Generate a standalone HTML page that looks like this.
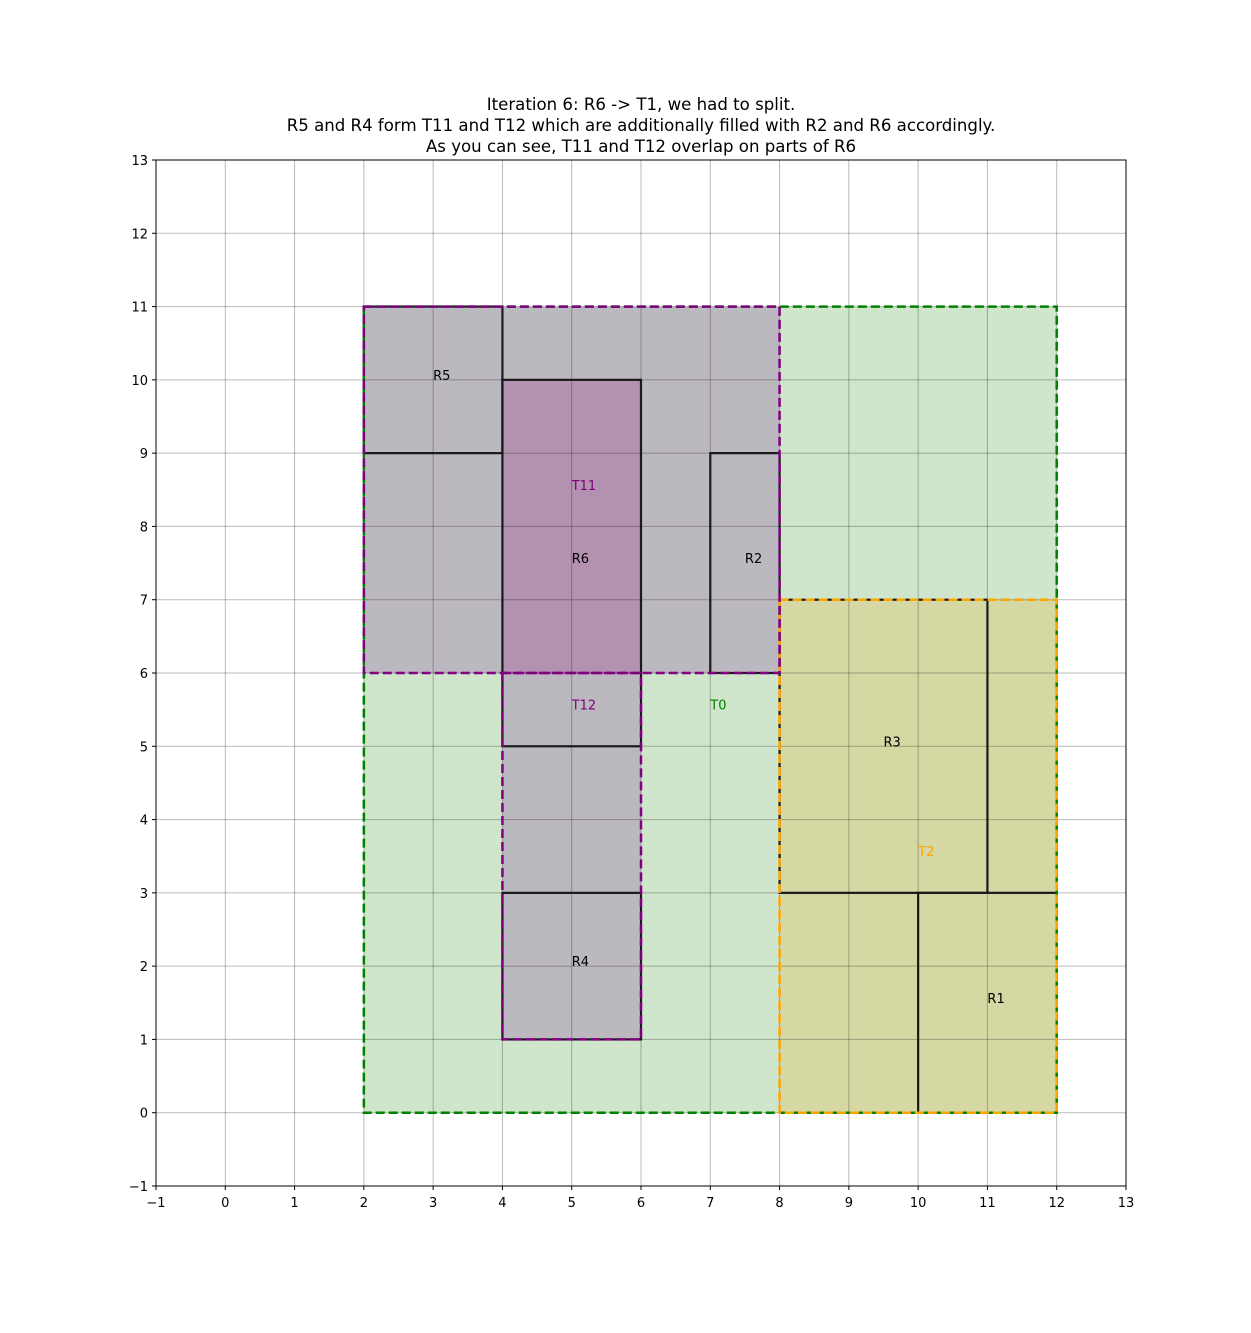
<!DOCTYPE html>
<html><head><meta charset="utf-8"><style>
html,body{margin:0;padding:0;background:#fff;}
svg{display:block;font-family:"DejaVu Sans","Liberation Sans",sans-serif;}
</style></head><body>
<svg id="chart" width="1251" height="1333" viewBox="0 0 1251 1333" xmlns="http://www.w3.org/2000/svg">
<g font-size="16.6" text-anchor="middle" fill="#000">
<text x="641" y="110">Iteration 6: R6 -&gt; T1, we had to split.</text>
<text x="641" y="131">R5 and R4 form T11 and T12 which are additionally filled with R2 and R6 accordingly.</text>
<text x="641" y="152">As you can see, T11 and T12 overlap on parts of R6</text>
</g>
<g id="fills"></g>
<g id="grid"></g>
<g id="borders"></g>
<g id="labels" font-size="13"></g>
<rect x="156" y="160" width="970" height="1026" fill="none" stroke="#000" stroke-width="1"/>
<g id="ticks" font-size="13"></g>
</svg>
<script>
const xTicks=[-1,0,1,2,3,4,5,6,7,8,9,10,11,12,13];
const yTicks=[-1,0,1,2,3,4,5,6,7,8,9,10,11,12,13];
// fill regions: [x0,y0,x1,y1]
const fillNames=['T0','T2','T11','T12','R6'];
const fillBoxes=[[2,0,12,11],[8,0,12,7],[2,6,8,11],[4,1,6,6],[4,6,6,10]];
const fillColors=['#cfe5cc','#d5d8a3','#bcb8bf','#bcb8bf','#b391b0'];
// solid black rects
const rectNames=['R5','R6','R2','R4','R3','R1'];
const rectBoxes=[[2,9,4,11],[4,5,6,10],[7,6,8,9],[4,1,6,3],[8,3,11,7],[10,0,12,3]];
const rectLabelPos=[[3,10],[5,7.5],[7.5,7.5],[5,2],[9.5,5],[11,1.5]];
// dashed containers
const contNames=['T0','T2','T11','T12'];
const contBoxes=[[2,0,12,11],[8,0,12,7],[2,6,8,11],[4,1,6,6]];
const contColors=['green','orange','purple','purple'];
const contLabelPos=[[7,5.5],[10,3.5],[5,8.5],[5,5.5]];

const X=v=>156+(v+1)*970/14, Y=v=>1186-(v+1)*1026/14;
const NS='http://www.w3.org/2000/svg';
function mk(tag,parent,attrs){const e=document.createElementNS(NS,tag);for(const k in attrs)e.setAttribute(k,attrs[k]);parent.appendChild(e);return e;}
const grid=document.getElementById('grid'),ticks=document.getElementById('ticks');
xTicks.forEach(t=>{
 const l=mk('line',grid,{x1:X(t),x2:X(t),y1:160,y2:1186,stroke:'#000','stroke-opacity':0.27,'stroke-width':1});
 
 
 mk('line',ticks,{x1:X(t),x2:X(t),y1:1186,y2:1190,stroke:'#000'});
 const tx=mk('text',ticks,{x:X(t),y:1207,'text-anchor':'middle'});tx.textContent=t<0?'\u2212'+(-t):t;
 
 
});
yTicks.forEach(t=>{
 const l=mk('line',grid,{x1:156,x2:1126,y1:Y(t),y2:Y(t),stroke:'#000','stroke-opacity':0.27,'stroke-width':1});
 
 
 mk('line',ticks,{x1:152,x2:156,y1:Y(t),y2:Y(t),stroke:'#000'});
 const tx=mk('text',ticks,{x:148,y:Y(t)+5,'text-anchor':'end'});tx.textContent=t<0?'\u2212'+(-t):t;
 
 
});
const fills=document.getElementById('fills'),borders=document.getElementById('borders'),labels=document.getElementById('labels');
fillBoxes.forEach((b,i)=>{
 const r=mk('rect',fills,{x:X(b[0]),y:Y(b[3]),width:X(b[2])-X(b[0]),height:Y(b[1])-Y(b[3]),fill:fillColors[i]});
 
 
});
rectBoxes.forEach((b,i)=>{
 const r=mk('rect',borders,{x:X(b[0]),y:Y(b[3]),width:X(b[2])-X(b[0]),height:Y(b[1])-Y(b[3]),fill:'none',stroke:'#1a1a1a','stroke-width':2.2});
 
 
 const t=mk('text',labels,{x:X(rectLabelPos[i][0]),y:Y(rectLabelPos[i][1]),fill:'#000'});t.textContent=rectNames[i];
 
 
});
contBoxes.forEach((b,i)=>{
 const r=mk('rect',borders,{x:X(b[0]),y:Y(b[3]),width:X(b[2])-X(b[0]),height:Y(b[1])-Y(b[3]),fill:'none',stroke:contColors[i],'stroke-width':2.5,'stroke-dasharray':'9,4'});
 
 
 const t=mk('text',labels,{x:X(contLabelPos[i][0]),y:Y(contLabelPos[i][1]),fill:contColors[i]});t.textContent=contNames[i];
 
 
});
</script>
</body></html>
